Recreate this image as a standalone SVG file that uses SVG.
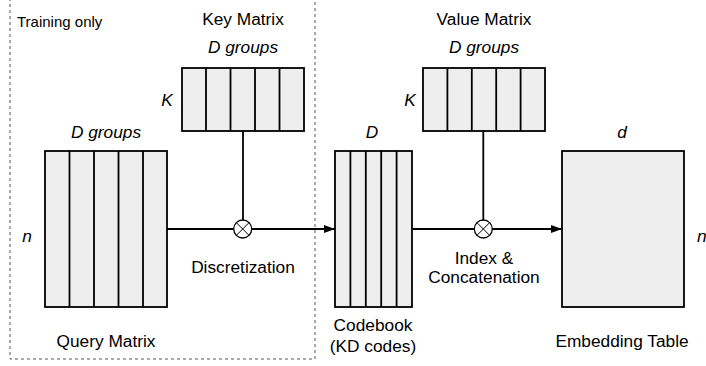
<svg xmlns="http://www.w3.org/2000/svg" width="706" height="366" viewBox="0 0 706 366">
<defs>
<style>
.t{font-family:"Liberation Sans",Arial,sans-serif;font-size:17.3px;fill:#000}
.i{font-family:"Liberation Sans",Arial,sans-serif;font-size:17.3px;font-style:italic;fill:#000}
.m{fill:#eeeeee;stroke:#000;stroke-width:1.8}
.d{stroke:#000;stroke-width:1.8;fill:none}
.c{stroke:#000;stroke-width:1.8;fill:none}
</style>
<marker id="ah" markerWidth="11" markerHeight="8" refX="11" refY="4" orient="auto" markerUnits="userSpaceOnUse">
<path d="M0,0 L11,4 L0,8 Z" fill="#000"/>
</marker>
</defs>
<rect x="10" y="-5" width="305" height="364" fill="none" stroke="#555" stroke-width="1" stroke-dasharray="3,3"/>
<text class="t" x="17" y="27" style="font-size:15px">Training only</text>
<g id="key-matrix">
<rect class="m" x="182" y="68" width="122" height="63"/>
<path class="d" d="M206,68V131M230.5,68V131M255,68V131M279.5,68V131"/>
<text class="t" x="243" y="25" text-anchor="middle">Key Matrix</text>
<text class="i" x="243" y="53" text-anchor="middle">D groups</text>
<text class="i" x="167" y="106" text-anchor="middle">K</text>
</g>
<g id="query-matrix">
<rect class="m" x="45" y="151" width="122" height="156"/>
<path class="d" d="M69.5,151V307M94,151V307M118.5,151V307M143,151V307"/>
<text class="i" x="106" y="138" text-anchor="middle">D groups</text>
<text class="i" x="27" y="242" text-anchor="middle">n</text>
<text class="t" x="106" y="347" text-anchor="middle">Query Matrix</text>
</g>
<g id="codebook">
<rect class="m" x="335" y="151" width="77" height="156"/>
<path class="d" d="M350.4,151V307M365.8,151V307M381.2,151V307M396.6,151V307"/>
<text class="i" x="372" y="138" text-anchor="middle">D</text>
<text class="t" x="373" y="331" text-anchor="middle">Codebook</text>
<text class="t" x="373" y="352" text-anchor="middle">(KD codes)</text>
</g>
<g id="value-matrix">
<rect class="m" x="423" y="68" width="122" height="63"/>
<path class="d" d="M447.4,68V131M471.8,68V131M496.2,68V131M520.6,68V131"/>
<text class="t" x="484" y="25" text-anchor="middle">Value Matrix</text>
<text class="i" x="484" y="53" text-anchor="middle">D groups</text>
<text class="i" x="410" y="106" text-anchor="middle">K</text>
</g>
<g id="embedding-table">
<rect class="m" x="562" y="151" width="122" height="156"/>
<text class="i" x="622" y="138" text-anchor="middle">d</text>
<text class="i" x="697" y="242">n</text>
<text class="t" x="622" y="347" text-anchor="middle">Embedding Table</text>
</g>
<g id="connectors">
<path class="c" d="M167,229H233.7"/>
<path class="c" d="M251.7,229H335" marker-end="url(#ah)"/>
<path class="c" d="M243,131V220"/>
<circle class="c" cx="242.7" cy="229" r="9" fill="#fff" style="stroke-width:1.3"/>
<path class="c" d="M236.3,222.6L249.1,235.4M249.1,222.6L236.3,235.4" style="stroke-width:1"/>
<path class="c" d="M412,229H474.3"/>
<path class="c" d="M492.3,229H562" marker-end="url(#ah)"/>
<path class="c" d="M483.3,131V220"/>
<circle class="c" cx="483.3" cy="229" r="9" fill="#fff" style="stroke-width:1.3"/>
<path class="c" d="M476.9,222.6L489.7,235.4M489.7,222.6L476.9,235.4" style="stroke-width:1"/>
<text class="t" x="243" y="273" text-anchor="middle">Discretization</text>
<text class="t" x="484" y="264" text-anchor="middle">Index &amp;</text>
<text class="t" x="484" y="283" text-anchor="middle">Concatenation</text>
</g>
</svg>
